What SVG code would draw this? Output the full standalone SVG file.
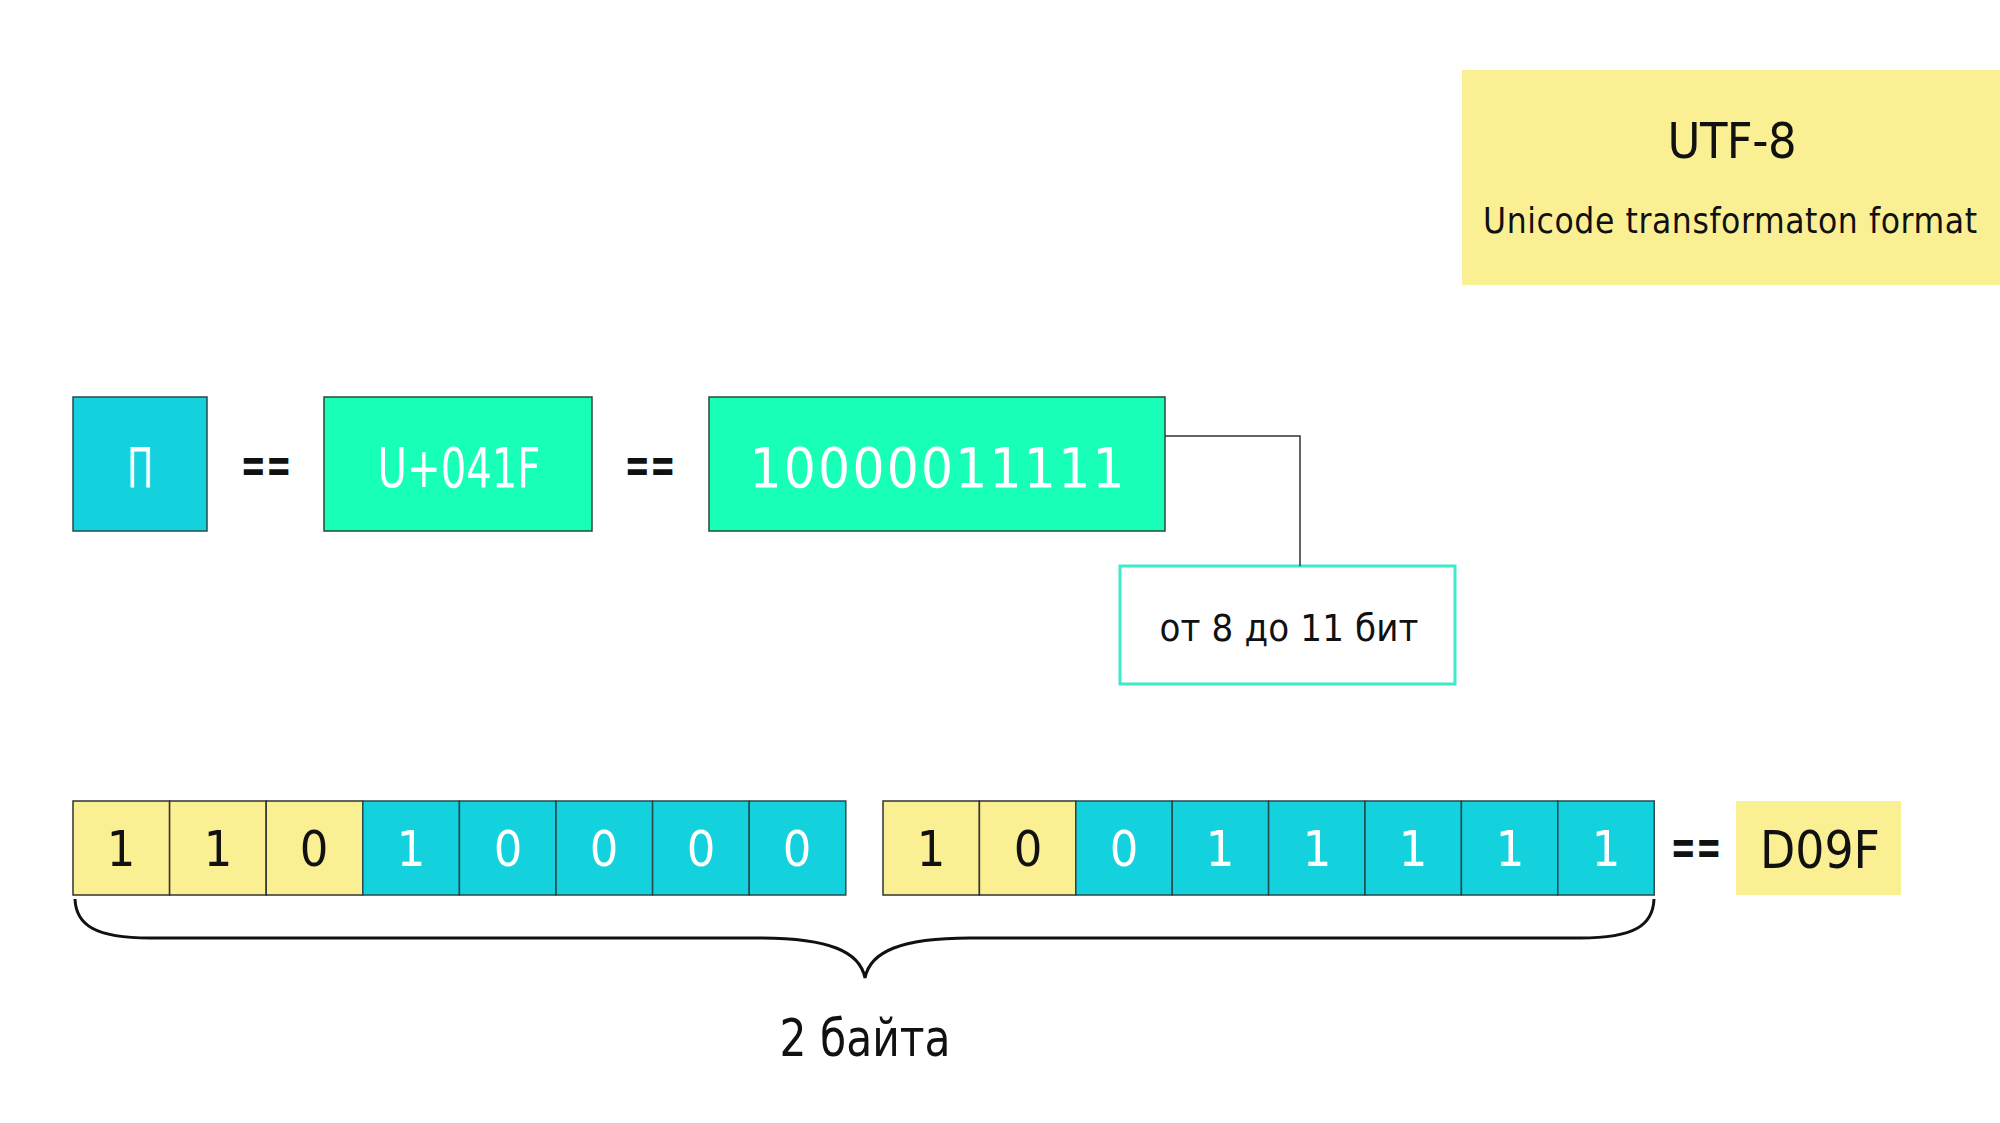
<svg xmlns="http://www.w3.org/2000/svg" width="2000" height="1123" viewBox="0 0 2000 1123">
<style>
  text { font-family: "DejaVu Sans Condensed", "DejaVu Sans", sans-serif; text-anchor: middle; }
  .cyan { fill: #13d2de; stroke: #2a4a4a; stroke-width: 1.5; }
  .green { fill: #18ffb8; stroke: #2a4a3a; stroke-width: 1.5; }
  .yel { fill: #fbef93; stroke: #333; stroke-width: 1.5; }
  .yelbox { fill: #fbef93; }
  .w { fill: #ffffff; }
  .k { fill: #111111; }
  .bit { font-size: 50px; }
  .eq { font-size: 50px; font-weight: bold; fill: #111; }
</style>
<rect width="2000" height="1123" fill="#ffffff"/>

<g id="title">
  <rect class="yelbox" x="1462" y="70" width="538" height="215"/>
  <text x="1732" y="158" class="k" style="font-size:50px" textLength="129" lengthAdjust="spacing">UTF-8</text>
  <text x="1730" y="233" class="k" style="font-size:35px" textLength="494" lengthAdjust="spacing">Unicode transformaton format</text>
</g>

<g id="char">
  <rect class="cyan" x="73" y="397" width="134" height="134"/>
  <text x="140" y="487" class="w" style="font-size:56px" textLength="26" lengthAdjust="spacingAndGlyphs">П</text>
</g>
<text id="eq1" x="266" y="482" class="eq" textLength="51" lengthAdjust="spacingAndGlyphs">==</text>
<g id="codepoint">
  <rect class="green" x="324" y="397" width="268" height="134"/>
  <text x="459" y="487" class="w" style="font-size:56px" textLength="163" lengthAdjust="spacingAndGlyphs">U+041F</text>
</g>
<text id="eq2" x="650" y="482" class="eq" textLength="51" lengthAdjust="spacingAndGlyphs">==</text>
<g id="binary">
  <rect class="green" x="709" y="397" width="456" height="134"/>
  <text x="937" y="487" class="w" style="font-size:56px" textLength="375" lengthAdjust="spacing">10000011111</text>
</g>
<g id="label">
  <rect x="1120" y="566" width="335" height="118" fill="#ffffff" stroke="#3fe9c9" stroke-width="3"/>
  <text x="1289" y="641" class="k" style="font-size:38px" textLength="259" lengthAdjust="spacing">от 8 до 11 бит</text>
</g>

<g id="connectors" fill="none" stroke="#333" stroke-width="1.5">
  <polyline points="1165,436 1300,436 1300,566"/>
  <path d="M75,899 C76,925 95,938 150,938 L760,938 C830,938 860,952 865,978 C870,952 900,938 970,938 L1580,938 C1635,938 1653,925 1654,899" stroke="#111" stroke-width="3"/>
</g>

<g id="byte1">
  <rect class="yel" x="73" y="801" width="96.6" height="94"/>
  <rect class="yel" x="169.6" y="801" width="96.6" height="94"/>
  <rect class="yel" x="266.2" y="801" width="96.6" height="94"/>
  <rect class="cyan" x="362.8" y="801" width="96.6" height="94"/>
  <rect class="cyan" x="459.4" y="801" width="96.6" height="94"/>
  <rect class="cyan" x="556" y="801" width="96.6" height="94"/>
  <rect class="cyan" x="652.6" y="801" width="96.6" height="94"/>
  <rect class="cyan" x="749.2" y="801" width="96.6" height="94"/>
  <text class="bit k" x="121" y="866">1</text>
  <text class="bit k" x="218" y="866">1</text>
  <text class="bit k" x="314" y="866">0</text>
  <text class="bit w" x="411" y="866">1</text>
  <text class="bit w" x="508" y="866">0</text>
  <text class="bit w" x="604" y="866">0</text>
  <text class="bit w" x="701" y="866">0</text>
  <text class="bit w" x="797" y="866">0</text>
</g>
<g id="byte2">
  <rect class="yel" x="883" y="801" width="96.4" height="94"/>
  <rect class="yel" x="979.4" y="801" width="96.4" height="94"/>
  <rect class="cyan" x="1075.8" y="801" width="96.4" height="94"/>
  <rect class="cyan" x="1172.2" y="801" width="96.4" height="94"/>
  <rect class="cyan" x="1268.6" y="801" width="96.4" height="94"/>
  <rect class="cyan" x="1365" y="801" width="96.4" height="94"/>
  <rect class="cyan" x="1461.4" y="801" width="96.4" height="94"/>
  <rect class="cyan" x="1557.8" y="801" width="96.4" height="94"/>
  <text class="bit k" x="931" y="866">1</text>
  <text class="bit k" x="1028" y="866">0</text>
  <text class="bit w" x="1124" y="866">0</text>
  <text class="bit w" x="1220" y="866">1</text>
  <text class="bit w" x="1317" y="866">1</text>
  <text class="bit w" x="1413" y="866">1</text>
  <text class="bit w" x="1510" y="866">1</text>
  <text class="bit w" x="1606" y="866">1</text>
</g>
<text id="eq3" x="1696" y="864" class="eq" textLength="51" lengthAdjust="spacingAndGlyphs">==</text>
<g id="hex">
  <rect class="yelbox" x="1736" y="801" width="165" height="94"/>
  <text x="1820" y="868" class="k" style="font-size:52px" textLength="120" lengthAdjust="spacingAndGlyphs">D09F</text>
</g>
<text id="bytes" x="865" y="1056" class="k" style="font-size:52px" textLength="171" lengthAdjust="spacingAndGlyphs">2 байта</text>
</svg>
